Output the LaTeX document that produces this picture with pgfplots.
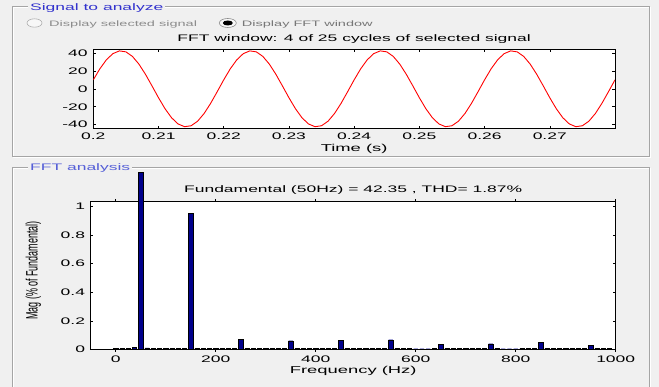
\documentclass[border=0pt]{standalone}
\usepackage{fontspec}
\setmainfont[FakeStretch=1.84]{Liberation Sans}
\newfontfamily\yfont[FakeStretch=0.543]{Liberation Sans}
\usepackage{pgfplots}
\pgfplotsset{compat=1.18}
\definecolor{figbg}{RGB}{240,240,240}
\definecolor{framegray}{RGB}{165,165,165}
\definecolor{tblueA}{RGB}{50,50,205}
\definecolor{tblueB}{RGB}{85,95,215}
\definecolor{radiogray}{RGB}{140,140,140}
\definecolor{barblue}{RGB}{0,0,140}
\pgfplotsset{
  matstyle/.style={
    scale only axis,
    axis background/.style={fill=white},
    tick align=inside,
    major tick length=2.5pt,
    axis line style={line width=0.7pt},
    every tick/.style={black,line width=0.5pt},
    tick label style={font=\fontsize{9.5}{11}\selectfont},
    label style={font=\fontsize{9.5}{11}\selectfont},
    every axis title/.style={font=\fontsize{9.5}{11}\selectfont,at={(0.5,1)},anchor=base,inner sep=0pt},
    yticklabel style={anchor=east,inner sep=0pt,xshift=-5.5pt},
  }
}
\begin{document}
\begin{tikzpicture}[x=1pt,y=1pt]
\fill[figbg] (0,0) rectangle (659,387);
% panel frames (etched)
\draw[white,line width=0.8pt] (13,380) rectangle (650,229.3);
\draw[framegray,line width=0.8pt] (12,381) rectangle (649,230.3);
\draw[white,line width=0.8pt] (13,0) -- (13,219) -- (650,219) -- (650,0);
\draw[framegray,line width=0.8pt] (12,0) -- (12,220) -- (649,220) -- (649,0);
% panel titles
\node[anchor=base west,fill=figbg,inner xsep=2pt,inner ysep=1.5pt,text=tblueA,font=\fontsize{9.5}{11}\selectfont] at (28,376) {Signal to analyze};
\node[anchor=base west,fill=figbg,inner xsep=2pt,inner ysep=1.5pt,text=tblueB,font=\fontsize{9.5}{11}\selectfont] at (28,216) {FFT analysis};
% radio buttons
\filldraw[fill=white!97!black,draw=radiogray!70,line width=0.6pt] (34.5,364) ellipse (7.5 and 4.2);
\node[anchor=base west,inner sep=0pt,text=radiogray,font=\fontsize{7.9}{9}\selectfont] at (49,360) {Display selected signal};
\filldraw[fill=white!97!black,draw=radiogray,line width=0.6pt] (227.8,364) ellipse (8.5 and 4.5);
\fill[black] (227.8,364) ellipse (5 and 2.5);
\node[anchor=base west,inner sep=0pt,text=radiogray!85!black,font=\fontsize{7.9}{9}\selectfont] at (241.7,360) {Display FFT window};

% upper axis: signal
\begin{axis}[matstyle,
  at={(93.3pt,258.7pt)}, anchor=south west,
  width=521.7pt, height=79pt,
  xmin=0.2, xmax=0.28, ymin=-44, ymax=44,
  xtick={0.2,0.21,0.22,0.23,0.24,0.25,0.26,0.27},
  xticklabels={0.2,0.21,0.22,0.23,0.24,0.25,0.26,0.27},
  ytick={-40,-20,0,20,40},
  yticklabels={-40,-20,0,20,40},
  xticklabel style={anchor=base,inner sep=0pt,yshift=-11.5pt},
  title={FFT window: 4 of 25 cycles of selected signal},
  title style={yshift=7.5pt},
  xlabel={Time (s)},
  every axis x label/.style={at={(axis description cs:0.5,0)},anchor=base,yshift=-23.5pt},
]
\addplot[red,line width=0.9pt] coordinates {
(0.200,9.96)(0.201,22.20)(0.202,32.25)(0.203,39.16)(0.204,42.22)(0.205,41.16)(0.206,36.08)(0.207,27.45)(0.208,16.14)(0.209,3.25)
(0.210,-9.96)(0.211,-22.20)(0.212,-32.25)(0.213,-39.16)(0.214,-42.22)(0.215,-41.16)(0.216,-36.08)(0.217,-27.45)(0.218,-16.14)(0.219,-3.25)
(0.220,9.96)(0.221,22.20)(0.222,32.25)(0.223,39.16)(0.224,42.22)(0.225,41.16)(0.226,36.08)(0.227,27.45)(0.228,16.14)(0.229,3.25)
(0.230,-9.96)(0.231,-22.20)(0.232,-32.25)(0.233,-39.16)(0.234,-42.22)(0.235,-41.16)(0.236,-36.08)(0.237,-27.45)(0.238,-16.14)(0.239,-3.25)
(0.240,9.96)(0.241,22.20)(0.242,32.25)(0.243,39.16)(0.244,42.22)(0.245,41.16)(0.246,36.08)(0.247,27.45)(0.248,16.14)(0.249,3.25)
(0.250,-9.96)(0.251,-22.20)(0.252,-32.25)(0.253,-39.16)(0.254,-42.22)(0.255,-41.16)(0.256,-36.08)(0.257,-27.45)(0.258,-16.14)(0.259,-3.25)
(0.260,9.96)(0.261,22.20)(0.262,32.25)(0.263,39.16)(0.264,42.22)(0.265,41.16)(0.266,36.08)(0.267,27.45)(0.268,16.14)(0.269,3.25)
(0.270,-9.96)(0.271,-22.20)(0.272,-32.25)(0.273,-39.16)(0.274,-42.22)(0.275,-41.16)(0.276,-36.08)(0.277,-27.45)(0.278,-16.14)(0.279,-3.25)
(0.280,9.96)
};
\end{axis}

% lower axis: FFT
\begin{axis}[matstyle,
  at={(90.7pt,37.7pt)}, anchor=south west,
  width=525pt, height=148pt,
  xmin=-50, xmax=1000, ymin=0, ymax=1.037,
  xtick={0,200,400,600,800,1000},
  xticklabels={0,200,400,600,800,1000},
  ytick={0,0.2,0.4,0.6,0.8,1},
  yticklabels={0,0.2,0.4,0.6,0.8,1},
  xticklabel style={anchor=base,inner sep=0pt,yshift=-11pt},
  title={Fundamental (50Hz) = 42.35 , THD= 1.87\%},
  title style={yshift=8.5pt},
  xlabel={Frequency (Hz)},
  every axis x label/.style={at={(axis description cs:0.5,0)},anchor=base,yshift=-24.5pt},
  ylabel={Mag (\% of Fundamental)},
  every axis y label/.style={at={(axis description cs:-0.1093,0.532)},rotate=90,anchor=center,font=\yfont\fontsize{16.5}{18}\selectfont},
  ybar, bar width=8.5, bar shift=0pt,
  clip=false,
  restrict y to domain*=0:1.2375,
]
\addplot[fill=barblue,draw=black,line width=0.4pt] coordinates {
(0,0.006)(12.5,0.007)(25,0.007)(37.5,0.012)(50,100)(62.5,0.010)(75,0.007)(87.5,0.007)(100,0.007)(112.5,0.007)(125,0.007)(137.5,0.007)
(150,0.953)(162.5,0.007)(175,0.007)(187.5,0.007)(200,0.007)(212.5,0.007)(225,0.007)(237.5,0.007)
(250,0.072)(262.5,0.007)(275,0.007)(287.5,0.007)(300,0.007)(312.5,0.007)(325,0.007)(337.5,0.007)
(350,0.060)(362.5,0.007)(375,0.007)(387.5,0.007)(400,0.007)(412.5,0.007)(425,0.007)(437.5,0.007)
(450,0.063)(462.5,0.007)(475,0.007)(487.5,0.007)(500,0.007)(512.5,0.007)(525,0.007)(537.5,0.007)
(550,0.067)(562.5,0.007)(575,0.007)(587.5,0.007)(600,0.004)(612.5,0.004)(625,0.004)(637.5,0.007)
(650,0.035)(662.5,0.007)(675,0.007)(687.5,0.007)(700,0.007)(712.5,0.007)(725,0.007)(737.5,0.007)
(750,0.039)(762.5,0.007)(775,0.004)(787.5,0.004)(800,0.004)(812.5,0.007)(825,0.007)(837.5,0.007)
(850,0.049)(862.5,0.007)(875,0.007)(887.5,0.007)(900,0.007)(912.5,0.007)(925,0.007)(937.5,0.007)
(950,0.028)(962.5,0.007)(975,0.007)(987.5,0.007)
};
\end{axis}
\pgfresetboundingbox
\useasboundingbox (0,0) rectangle (659,387);
\end{tikzpicture}
\end{document}
